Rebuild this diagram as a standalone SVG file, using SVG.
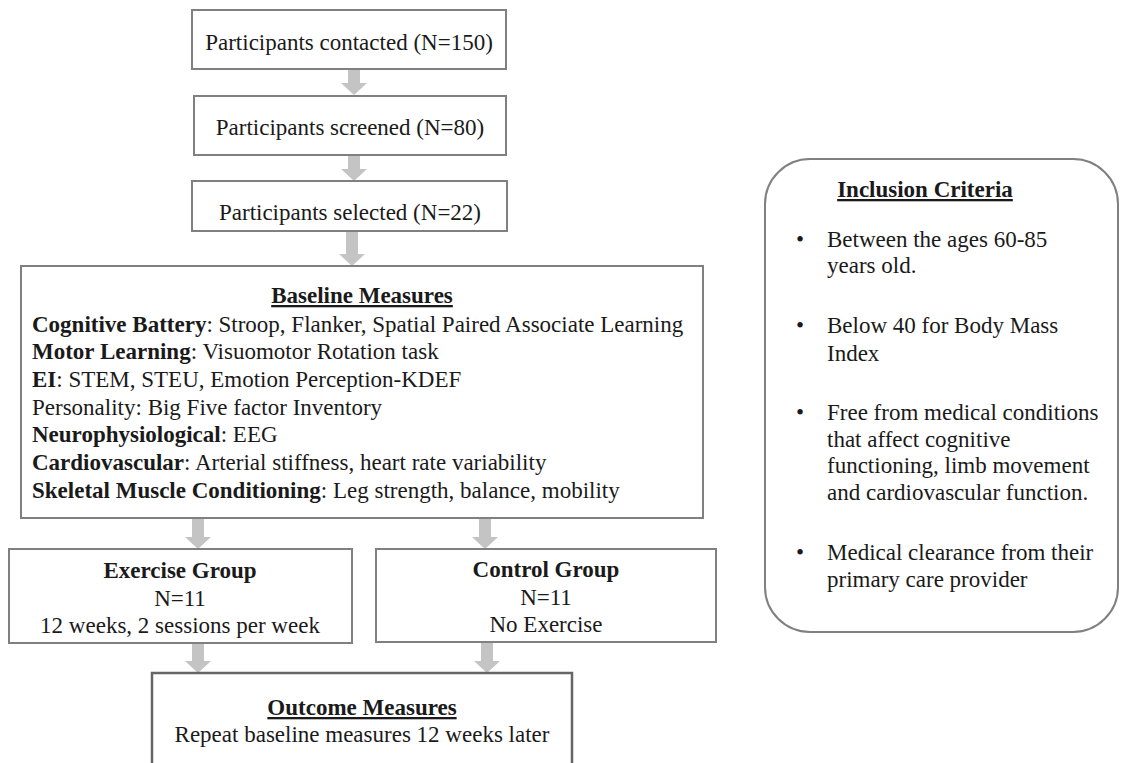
<svg xmlns="http://www.w3.org/2000/svg" width="1121" height="763" viewBox="0 0 1121 763" font-family="Liberation Serif, Times New Roman, Tinos, Noto Serif, DejaVu Serif, serif">
<style>
text{font-family:'Liberation Serif','Times New Roman',Tinos,'Noto Serif','DejaVu Serif',serif;font-size:23px;fill:#1a1a1a}
.b{font-weight:bold}
.u{font-weight:bold;text-decoration:underline}
.box{fill:#fff;stroke:#808080;stroke-width:2}
.arr{fill:#c4c4c4}
.c{text-anchor:middle}
</style>
<rect width="1121" height="763" fill="#fff"/>
<g id="connectors">
<polygon class="arr" points="348,70 360,70 360,83 367,83 354,95 341,83 348,83"/>
<polygon class="arr" points="348,155 360,155 360,169 367,169 354,181 341,169 348,169"/>
<polygon class="arr" points="346,231 358,231 358,254 365,254 352,266 339,254 346,254"/>
<polygon class="arr" points="192,519 204,519 204,537 211,537 198,549 185,537 192,537"/>
<polygon class="arr" points="479,519 491,519 491,537 498,537 485,549 472,537 479,537"/>
<polygon class="arr" points="192,643 204,643 204,661 211,661 198,673 185,661 192,661"/>
<polygon class="arr" points="481,642 493,642 493,661 500,661 487,673 474,661 481,661"/>
</g>
<g id="contacted">
<rect class="box" x="192" y="10" width="314" height="59"/>
<text class="c" x="349" y="50">Participants contacted (N=150)</text>
</g>
<g id="screened">
<rect class="box" x="194" y="96" width="312" height="59"/>
<text class="c" x="350" y="135">Participants screened (N=80)</text>
</g>
<g id="selected">
<rect class="box" x="192" y="181" width="315" height="50"/>
<text class="c" x="350" y="220">Participants selected (N=22)</text>
</g>
<g id="baseline">
<rect class="box" x="21" y="266" width="682" height="252"/>
<text class="u c" x="362" y="303">Baseline Measures</text>
<text x="32" y="332"><tspan class="b">Cognitive Battery</tspan>: Stroop, Flanker, Spatial Paired Associate Learning</text>
<text x="32" y="359"><tspan class="b">Motor Learning</tspan>: Visuomotor Rotation task</text>
<text x="32" y="387"><tspan class="b">EI</tspan>: STEM, STEU, Emotion Perception-KDEF</text>
<text x="32" y="415">Personality: Big Five factor Inventory</text>
<text x="32" y="442"><tspan class="b">Neurophysiological</tspan>: EEG</text>
<text x="32" y="470"><tspan class="b">Cardiovascular</tspan>: Arterial stiffness,  heart rate variability</text>
<text x="32" y="498"><tspan class="b">Skeletal Muscle Conditioning</tspan>: Leg strength, balance, mobility</text>
</g>
<g id="exercise">
<rect class="box" x="9" y="549" width="343" height="94"/>
<text class="b c" x="180" y="578">Exercise Group</text>
<text class="c" x="180" y="606">N=11</text>
<text class="c" x="180" y="633">12 weeks, 2 sessions per week</text>
</g>
<g id="control">
<rect class="box" x="376" y="549" width="340" height="93"/>
<text class="b c" x="546" y="577">Control Group</text>
<text class="c" x="546" y="605">N=11</text>
<text class="c" x="546" y="632">No Exercise</text>
</g>
<g id="outcome">
<rect x="152" y="673" width="420" height="100" fill="#fff" stroke="#666" stroke-width="2.5"/>
<text class="u c" x="362" y="715">Outcome Measures</text>
<text class="c" x="362" y="742">Repeat baseline measures 12 weeks later</text>
</g>
<g id="inclusion">
<rect class="box" x="765" y="159" width="353" height="473" rx="45" ry="45"/>
<text class="u c" x="925" y="197">Inclusion Criteria</text>
<g>
<text x="796" y="247">•</text><text x="827" y="247">Between the ages  60-85</text>
<text x="827" y="273">years old.</text>
<text x="796" y="333">•</text><text x="827" y="333">Below 40 for Body Mass</text>
<text x="827" y="361">Index</text>
<text x="796" y="420">•</text><text x="827" y="420">Free from medical conditions</text>
<text x="827" y="447">that affect cognitive</text>
<text x="827" y="473">functioning, limb movement</text>
<text x="827" y="500">and cardiovascular function.</text>
<text x="796" y="560">•</text><text x="827" y="560">Medical clearance from  their</text>
<text x="827" y="587">primary care provider</text>
</g>
</g>
</svg>
